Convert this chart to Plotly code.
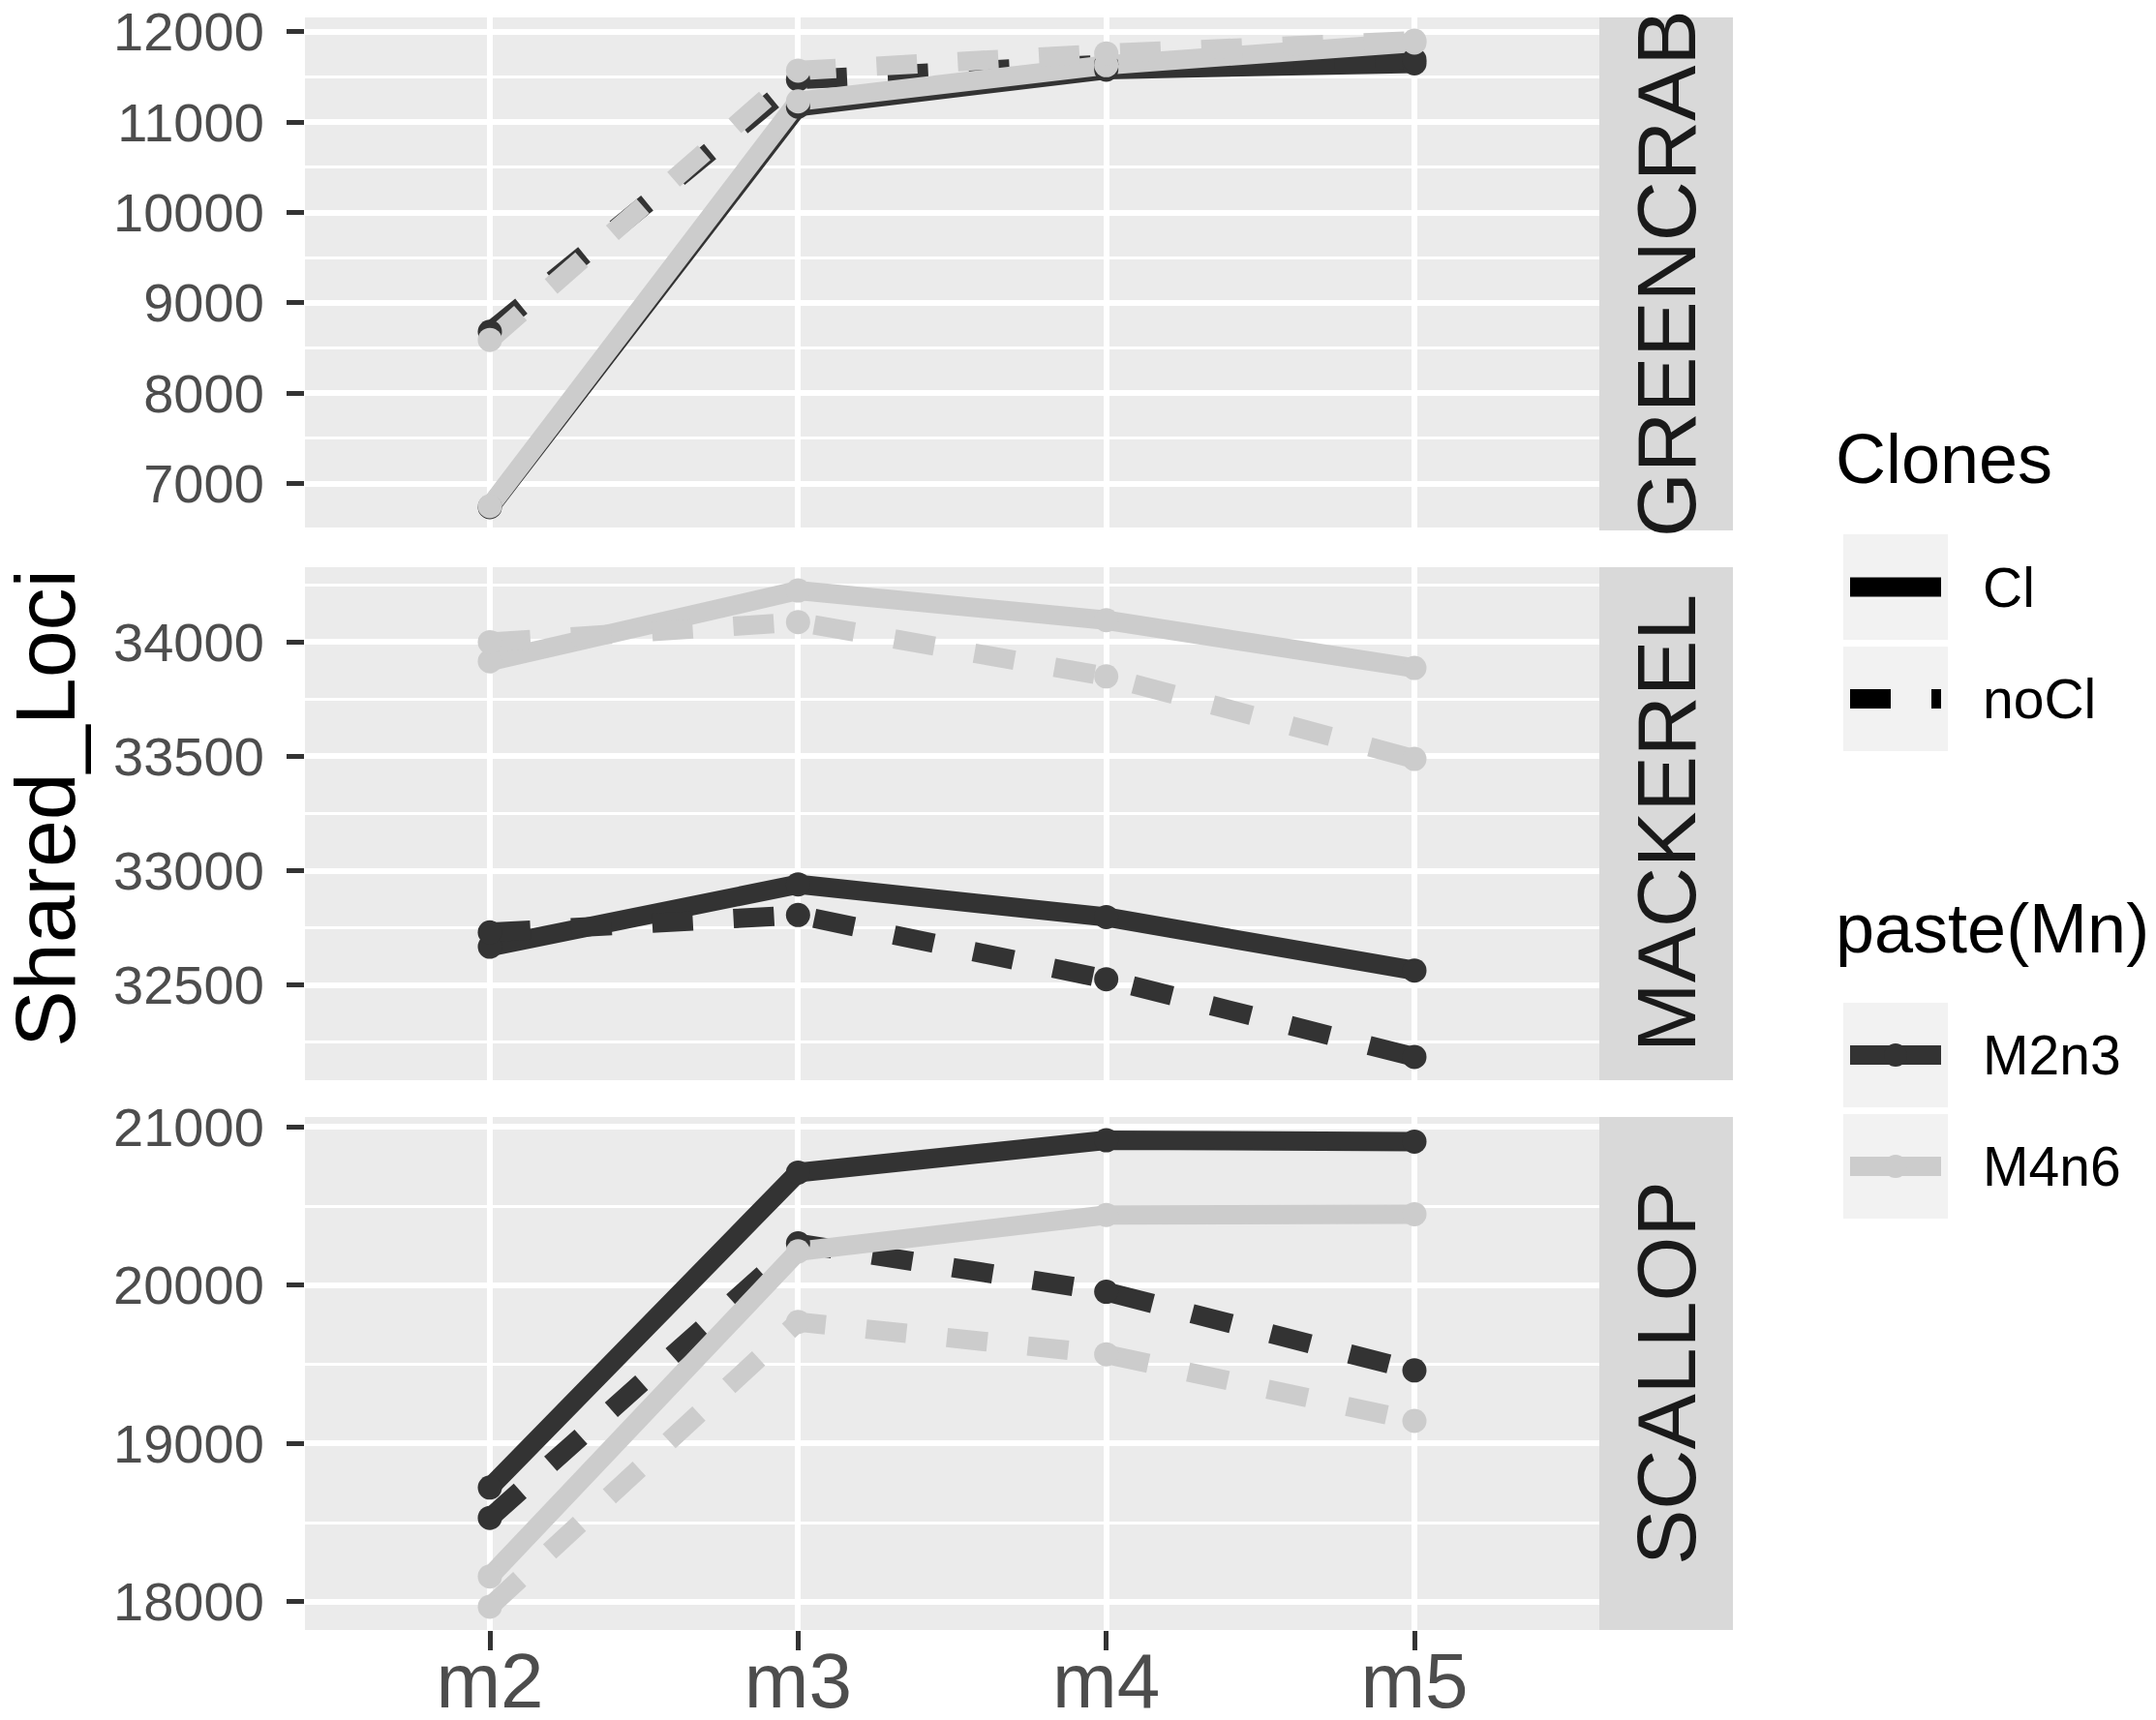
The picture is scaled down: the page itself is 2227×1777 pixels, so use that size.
import plotly.graph_objects as go

# ---------------- data ----------------
categories = ["m2", "m3", "m4", "m5"]
panels = ["GREENCRAB", "MACKEREL", "SCALLOP"]
clone_levels = ["Cl", "noCl"]
mn_levels = ["M2n3", "M4n6"]

greencrab_m2n3_cl = [6740, 11170, 11580, 11650]
greencrab_m2n3_nocl = [8680, 11470, 11640, 11690]
greencrab_m4n6_cl = [6750, 11230, 11630, 11880]
greencrab_m4n6_nocl = [8590, 11570, 11760, 11900]

mackerel_m2n3_cl = [32667, 32940, 32797, 32563]
mackerel_m2n3_nocl = [32730, 32806, 32525, 32185]
mackerel_m4n6_cl = [33916, 34226, 34096, 33887]
mackerel_m4n6_nocl = [34000, 34088, 33850, 33489]

scallop_m2n3_cl = [18722, 20712, 20916, 20908]
scallop_m2n3_nocl = [18530, 20265, 19959, 19462]
scallop_m4n6_cl = [18160, 20214, 20444, 20449]
scallop_m4n6_nocl = [17969, 19768, 19564, 19143]

y_dtick = [1000, 500, 1000]

panel_series = [
    [greencrab_m2n3_cl, greencrab_m2n3_nocl, greencrab_m4n6_cl, greencrab_m4n6_nocl],
    [mackerel_m2n3_cl, mackerel_m2n3_nocl, mackerel_m4n6_cl, mackerel_m4n6_nocl],
    [scallop_m2n3_cl, scallop_m2n3_nocl, scallop_m4n6_cl, scallop_m4n6_nocl],
]
series_keys = [("M2n3", "Cl"), ("M2n3", "noCl"), ("M4n6", "Cl"), ("M4n6", "noCl")]

# ---------------- styles ----------------
W, H = 2227, 1777
FONT = "Liberation Sans, Arial, sans-serif"
colors = {"M2n3": "#333333", "M4n6": "#cccccc"}
dashes = {"Cl": "solid", "noCl": "42px,42px"}
LW = 20
MS = 25

def px_x(p):
    return p / W

def px_y(p):
    return 1 - p / H

panel_top = [10, 578, 1146]
panel_bot = [540, 1108, 1676]
x_left, x_right = 307, 1644
strip_right = 1782

fig = go.Figure()

for i, series in enumerate(panel_series):
    xa = "x" if i == 0 else f"x{i+1}"
    ya = "y" if i == 0 else f"y{i+1}"
    for (mn, cl), vals in zip(series_keys, series):
        fig.add_trace(go.Scatter(
            x=categories, y=vals, mode="lines", xaxis=xa, yaxis=ya,
            line=dict(color=colors[mn], width=LW, dash=dashes[cl]),
            showlegend=False, hoverinfo="skip"))
for i, series in enumerate(panel_series):
    xa = "x" if i == 0 else f"x{i+1}"
    ya = "y" if i == 0 else f"y{i+1}"
    for (mn, cl), vals in zip(series_keys, series):
        fig.add_trace(go.Scatter(
            x=categories, y=vals, mode="markers", xaxis=xa, yaxis=ya,
            marker=dict(color=colors[mn], size=MS, line=dict(width=0)),
            showlegend=False, hoverinfo="skip"))

layout = dict(
    width=W, height=H,
    margin=dict(l=0, r=0, t=0, b=0, autoexpand=False),
    paper_bgcolor="white", plot_bgcolor="#ebebeb",
    font=dict(family=FONT, color="#4d4d4d"),
    showlegend=False,
)

shapes = []
annotations = []

for i in range(3):
    sfx = "" if i == 0 else str(i + 1)
    allv = [v for s in panel_series[i] for v in s]
    lo, hi = min(allv), max(allv)
    span = hi - lo
    yr = [lo - 0.05 * span, hi + 0.05 * span]
    dom_y = [px_y(panel_bot[i]), px_y(panel_top[i])]
    layout["xaxis" + sfx] = dict(
        domain=[px_x(x_left), px_x(x_right)],
        anchor="y" + sfx, automargin=False,
        type="category", categoryorder="array", categoryarray=categories,
        range=[-0.6, 3.6],
        showgrid=True, gridcolor="white", gridwidth=6,
        zeroline=False, showline=False,
        showticklabels=(i == 2),
        ticks="outside" if i == 2 else "",
        ticklen=20, tickwidth=5, tickcolor="#333333",
        tickfont=dict(size=80, color="#4d4d4d", family=FONT),
        ticklabelstandoff=-37, ticklabeloverflow="allow",
    )
    layout["yaxis" + sfx] = dict(
        domain=dom_y,
        anchor="x" + sfx, automargin=False,
        range=yr,
        dtick=y_dtick[i], tick0=0, tickformat="d",
        showgrid=True, gridcolor="white", gridwidth=6,
        minor=dict(dtick=y_dtick[i] / 2, tick0=0, showgrid=True,
                   gridcolor="white", gridwidth=3, ticks=""),
        zeroline=False, showline=False,
        ticks="outside", ticklen=18, tickwidth=5, tickcolor="#333333",
        tickfont=dict(size=56, color="#4d4d4d", family=FONT),
        ticklabelstandoff=12, ticklabeloverflow="allow",
    )
    # strip
    shapes.append(dict(type="rect", xref="paper", yref="paper",
                       x0=px_x(x_right), x1=px_x(strip_right),
                       y0=dom_y[0], y1=dom_y[1],
                       fillcolor="#d9d9d9", line=dict(width=0), layer="below"))
    annotations.append(dict(
        text=panels[i], xref="paper", yref="paper",
        x=px_x((x_right + strip_right) / 2), y=(dom_y[0] + dom_y[1]) / 2,
        xanchor="center", yanchor="middle", showarrow=False, textangle=-90,
        font=dict(size=86, color="#1a1a1a", family=FONT)))

# y axis title
annotations.append(dict(
    text="Shared_Loci", xref="paper", yref="paper",
    x=px_x(38), y=px_y(827), xanchor="center", yanchor="middle",
    showarrow=False, textangle=-90,
    font=dict(size=88, color="black", family=FONT)))

# ---------------- legend (drawn) ----------------
key_x0, key_x1 = 1896, 2004
label_x = 2038
leg_title_font = dict(size=72, color="black", family=FONT)
leg_label_font = dict(size=57, color="black", family=FONT)

annotations.append(dict(text="Clones", xref="paper", yref="paper",
                        x=px_x(1886), y=px_y(466), xanchor="left", yanchor="middle",
                        showarrow=False, font=leg_title_font))
annotations.append(dict(text="paste(Mn)", xref="paper", yref="paper",
                        x=px_x(1886), y=px_y(951), xanchor="left", yanchor="middle",
                        showarrow=False, font=leg_title_font))

clone_keys = [(544, 653), (660, 768)]
mn_keys = [(1028, 1136), (1143, 1251)]

for lvl, (k0, k1) in zip(clone_levels, clone_keys):
    yc = (k0 + k1) / 2
    shapes.append(dict(type="rect", xref="paper", yref="paper",
                       x0=px_x(key_x0), x1=px_x(key_x1), y0=px_y(k1), y1=px_y(k0),
                       fillcolor="#f2f2f2", line=dict(width=0)))
    shapes.append(dict(type="line", xref="paper", yref="paper",
                       x0=px_x(1903), x1=px_x(1997), y0=px_y(yc), y1=px_y(yc),
                       line=dict(color="black", width=LW, dash=dashes[lvl])))
    annotations.append(dict(text=lvl, xref="paper", yref="paper",
                            x=px_x(label_x), y=px_y(yc), xanchor="left", yanchor="middle",
                            showarrow=False, font=leg_label_font))

for lvl, (k0, k1) in zip(mn_levels, mn_keys):
    yc = (k0 + k1) / 2
    shapes.append(dict(type="rect", xref="paper", yref="paper",
                       x0=px_x(key_x0), x1=px_x(key_x1), y0=px_y(k1), y1=px_y(k0),
                       fillcolor="#f2f2f2", line=dict(width=0)))
    shapes.append(dict(type="line", xref="paper", yref="paper",
                       x0=px_x(1903), x1=px_x(1997), y0=px_y(yc), y1=px_y(yc),
                       line=dict(color=colors[lvl], width=LW)))
    shapes.append(dict(type="circle", xref="paper", yref="paper",
                       xsizemode="pixel", ysizemode="pixel",
                       xanchor=px_x(1950), yanchor=px_y(yc),
                       x0=-12, x1=12, y0=-12, y1=12,
                       fillcolor=colors[lvl], line=dict(width=0)))
    annotations.append(dict(text=lvl, xref="paper", yref="paper",
                            x=px_x(label_x), y=px_y(yc), xanchor="left", yanchor="middle",
                            showarrow=False, font=leg_label_font))

layout["shapes"] = shapes
layout["annotations"] = annotations
fig.update_layout(**layout)

fig.write_html("out.html", config={"displayModeBar": False})
